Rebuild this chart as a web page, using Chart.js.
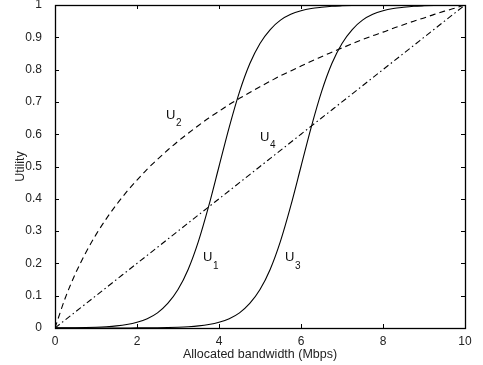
<!DOCTYPE html>
<html>
<head>
<meta charset="utf-8">
<script src="https://cdn.jsdelivr.net/npm/chart.js@4.4.1/dist/chart.umd.min.js"></script>
<style>
  html, body { margin: 0; padding: 0; background: #fff; }
  #wrap { width: 483px; height: 365px; }
</style>
</head>
<body>
<div id="wrap"><canvas id="utility"></canvas></div>
<script>
// Allocated bandwidth (Mbps) sample points
const bandwidth = [0, 0.25, 0.5, 0.75, 1, 1.25, 1.5, 1.75, 2, 2.25, 2.5, 2.75, 3, 3.25, 3.5, 3.75,
    4, 4.25, 4.5, 4.75, 5, 5.25, 5.5, 5.75, 6, 6.25, 6.5, 6.75, 7, 7.25, 7.5, 7.75,
    8, 8.25, 8.5, 8.75, 9, 9.25, 9.5, 9.75, 10];

// Utility curves
const u1 = [0.0003, 0.0006, 0.0009, 0.0015, 0.0025, 0.0041, 0.0067, 0.011, 0.018, 0.029, 0.047, 0.076,
    0.119, 0.182, 0.269, 0.378, 0.5, 0.622, 0.731, 0.818, 0.881, 0.924, 0.953, 0.971, 0.982, 0.989,
    0.993, 0.996, 0.9975, 0.9985, 0.999, 0.9994, 0.9997, 0.9998, 0.9999, 0.9999, 1, 1, 1, 1, 1];
const u2 = [0, 0.093, 0.169, 0.233, 0.289, 0.338, 0.382, 0.422, 0.458, 0.492, 0.522, 0.551, 0.578,
    0.603, 0.627, 0.650, 0.671, 0.692, 0.711, 0.729, 0.747, 0.764, 0.781, 0.796, 0.811, 0.826, 0.840,
    0.854, 0.867, 0.880, 0.893, 0.905, 0.916, 0.928, 0.939, 0.950, 0.960, 0.971, 0.981, 0.990, 1];
const u3 = [0, 0, 0, 0, 0, 0.0001, 0.0001, 0.0002, 0.0003, 0.0006, 0.0009, 0.0015, 0.0025, 0.0041,
    0.0067, 0.011, 0.018, 0.029, 0.047, 0.076, 0.119, 0.182, 0.269, 0.378, 0.5, 0.622, 0.731, 0.818,
    0.881, 0.924, 0.953, 0.971, 0.982, 0.989, 0.993, 0.996, 0.9975, 0.9985, 0.999, 0.9994, 0.9997];
const u4 = [0, 0.025, 0.05, 0.075, 0.1, 0.125, 0.15, 0.175, 0.2, 0.225, 0.25, 0.275, 0.3, 0.325, 0.35,
    0.375, 0.4, 0.425, 0.45, 0.475, 0.5, 0.525, 0.55, 0.575, 0.6, 0.625, 0.65, 0.675, 0.7, 0.725, 0.75,
    0.775, 0.8, 0.825, 0.85, 0.875, 0.9, 0.925, 0.95, 0.975, 1];

const curveNames = ['1', '2', '3', '4'];

const FONT = "'Liberation Sans', Arial, Helvetica, sans-serif";

function points(ys) {
    return bandwidth.map((x, i) => ({ x: x, y: ys[i] }));
}

function curve(ys, dash) {
    return {
        data: points(ys),
        borderColor: '#000',
        borderWidth: 1.1,
        borderDash: dash,
        pointRadius: 0,
        cubicInterpolationMode: 'monotone',
        fill: false
    };
}

// MATLAB-like box with inward ticks plus the U labels
const axesBox = {
    id: 'axesBox',
    afterDraw(chart) {
        const ctx = chart.ctx;
        const area = chart.chartArea;
        const xs = chart.scales.x;
        const ys = chart.scales.y;
        const len = 4;
        ctx.save();
        ctx.strokeStyle = '#000';
        ctx.lineWidth = 1;
        ctx.beginPath();
        xs.ticks.forEach(t => {
            const px = Math.round(xs.getPixelForValue(t.value)) + 0.5;
            ctx.moveTo(px, area.bottom);
            ctx.lineTo(px, area.bottom - len);
            ctx.moveTo(px, area.top);
            ctx.lineTo(px, area.top + len);
        });
        ys.ticks.forEach(t => {
            const py = Math.round(ys.getPixelForValue(t.value)) + 0.5;
            ctx.moveTo(area.left, py);
            ctx.lineTo(area.left + len, py);
            ctx.moveTo(area.right, py);
            ctx.lineTo(area.right - len, py);
        });
        ctx.stroke();
        ctx.lineWidth = 1.3;
        ctx.strokeRect(Math.round(area.left) + 0.5, Math.round(area.top) + 0.5,
            Math.round(area.right - area.left), Math.round(area.bottom - area.top));

        // curve labels, anchored in data coordinates
        const anchors = [[3.61, 0.217], [2.71, 0.659], [5.61, 0.217], [5.0, 0.591]];
        ctx.fillStyle = '#111';
        ctx.textBaseline = 'middle';
        ctx.textAlign = 'left';
        anchors.forEach((a, i) => {
            const px = xs.getPixelForValue(a[0]);
            const py = ys.getPixelForValue(a[1]);
            ctx.font = '13px ' + FONT;
            ctx.fillText('U', px, py);
            const w = ctx.measureText('U').width;
            ctx.font = '10px ' + FONT;
            ctx.fillText(curveNames[i], px + w + 0.5, py + 8);
        });
        ctx.restore();
    }
};

const ctxU = document.getElementById('utility').getContext('2d');
new Chart(ctxU, {
    type: 'line',
    data: {
        datasets: [
            curve(u1, []),
            curve(u2, [6, 4]),
            curve(u3, []),
            curve(u4, [6, 3, 1.5, 3])
        ]
    },
    options: {
        responsive: true,
        maintainAspectRatio: false,
        animation: false,
        layout: {
            padding: { top: 5, right: 18, left: 0, bottom: 0 }
        },
        plugins: {
            legend: { display: false },
            tooltip: { enabled: false }
        },
        scales: {
            x: {
                type: 'linear',
                min: 0,
                max: 10,
                grid: { display: false },
                border: { display: false },
                ticks: {
                    stepSize: 2,
                    padding: -2,
                    color: '#222',
                    font: { family: FONT, size: 12 },
                    maxRotation: 0
                },
                title: {
                    display: true,
                    text: 'Allocated bandwidth (Mbps)',
                    color: '#222',
                    font: { family: FONT, size: 12.5 },
                    padding: { top: 0, bottom: 3 }
                },
                afterFit: function(scale) {
                    scale.height = 37;
                    scale.paddingLeft = 0;
                    scale.paddingRight = 0;
                }
            },
            y: {
                min: 0,
                max: 1,
                grid: { display: false },
                border: { display: false },
                ticks: {
                    stepSize: 0.1,
                    padding: 5,
                    color: '#222',
                    font: { family: FONT, size: 12 },
                    callback: function(value) {
                        return String(+value.toFixed(1));
                    }
                },
                title: {
                    display: true,
                    text: 'Utility',
                    color: '#222',
                    font: { family: FONT, size: 12.5 },
                    padding: { top: 13.5, bottom: 0 }
                },
                afterFit: function(scale) {
                    scale.width = 55;
                    scale.paddingTop = 0;
                    scale.paddingBottom = 0;
                }
            }
        }
    },
    plugins: [axesBox]
});
</script>
</body>
</html>
